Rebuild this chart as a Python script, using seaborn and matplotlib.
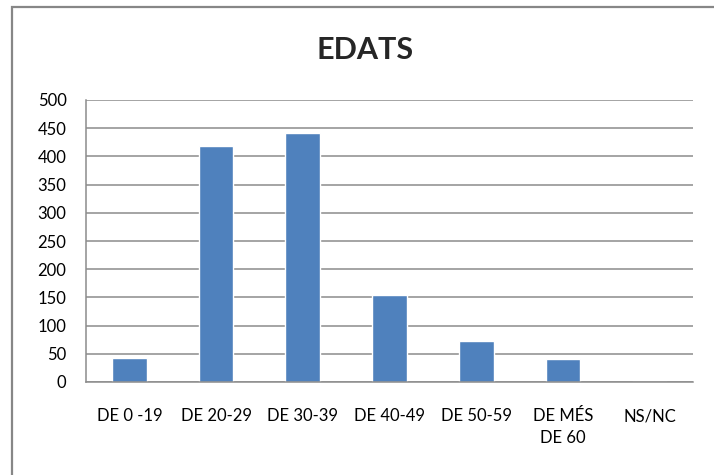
import pandas as pd
import matplotlib.pyplot as plt
import seaborn as sns
from matplotlib.patches import Rectangle

# Data
categories = ["DE 0 -19", "DE 20-29", "DE 30-39", "DE 40-49", "DE 50-59", "DE MÉS\nDE 60", "NS/NC"]
values = [43, 418, 441, 154, 73, 41, 0]
yticks = list(range(0, 501, 50))

df = pd.DataFrame({"Edat": categories, "Total": values})

sns.set_style("white")
plt.rcParams["font.family"] = ["Lato", "DejaVu Sans"]

fig = plt.figure(figsize=(7.14, 4.75), dpi=100)
ax = fig.add_axes([86 / 714, 1 - 382 / 475, (693 - 86) / 714, (382 - 100) / 475])

sns.barplot(x="Edat", y="Total", data=df, color="#4F81BD", saturation=1, width=0.4, ax=ax)

ax.set_ylim(0, 500)
ax.set_xlim(-0.5, 6.5)
ax.set_yticks(yticks)
ax.set_yticklabels([str(t) for t in yticks])
ax.yaxis.grid(True, color="#8C8C8C", lw=1.1)
ax.set_axisbelow(True)
ax.set_xlabel("")
ax.set_ylabel("")
ax.tick_params(axis="y", length=0, pad=14, labelsize=12, colors="black")
ax.tick_params(axis="x", length=0, pad=19, labelsize=12, colors="black")
for lbl in ax.get_xticklabels():
    lbl.set_multialignment("center")
    lbl.set_linespacing(1.4)

for side in ["top", "right"]:
    ax.spines[side].set_visible(False)
for side in ["left", "bottom"]:
    ax.spines[side].set_color("#8C8C8C")
    ax.spines[side].set_linewidth(1.1)

# Title
fig.text(0.511, 1 - 50 / 475, "EDATS", ha="center", va="center", fontsize=22, fontweight="bold")

# Chart border
fig.patches.append(Rectangle((12 / 714, -0.1), 2, 1 - 7 / 475 + 0.1, transform=fig.transFigure,
                             fill=False, edgecolor="#878787", lw=1.6))

fig.savefig("out.png", dpi=100)
